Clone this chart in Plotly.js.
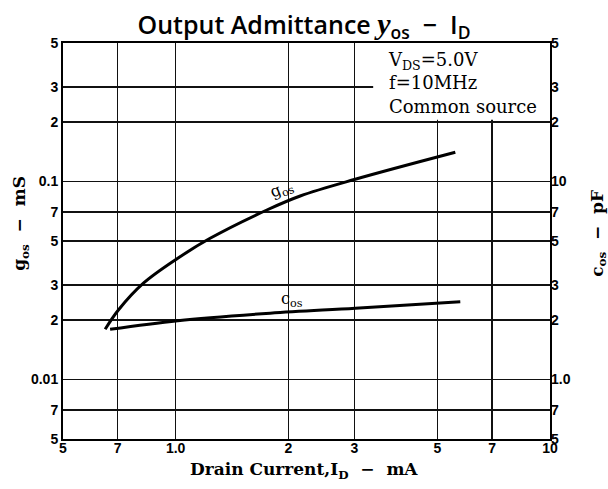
<!DOCTYPE html>
<html><head><meta charset="utf-8">
<script src="https://cdn.plot.ly/plotly-3.0.1.min.js"></script>
<style>html,body{margin:0;padding:0;background:#fff}</style>
</head><body>
<div id="chart" style="width:608px;height:489px"></div>
<script>
// Drain current (mA)
const gosCurrent = [0.648, 0.703, 0.820, 1.013, 1.236, 1.752, 2.151, 3.018, 5.585];
// Output conductance g_os (mS)
const gosValues  = [0.0179, 0.0224, 0.0306, 0.0409, 0.0516, 0.0717, 0.0844, 0.1025, 0.1403];
const cosCurrent = [0.668, 1.013, 1.788, 3.018, 5.759];
// Output capacitance c_os (pF)
const cosValues  = [1.79, 1.98, 2.16, 2.29, 2.47];

const xTickVals = [0.5, 0.7, 1, 2, 3, 5, 7, 10];
const xTickText = ['5', '7', '1.0', '2', '3', '5', '7', '10'];
const yTickVals = [0.005, 0.007, 0.01, 0.02, 0.03, 0.05, 0.07, 0.1, 0.2, 0.3, 0.5];
const yTickText = ['5', '7', '0.01', '2', '3', '5', '7', '0.1', '2', '3', '5'];
const y2TickVals = [0.5, 0.7, 1, 2, 3, 5, 7, 10, 20, 30, 50];
const y2TickText = ['5', '7', '1.0', '2', '3', '5', '7', '10', '2', '3', '5'];

const tickFont = {family: 'Liberation Sans, Arial, sans-serif', size: 14, color: '#000', weight: 'bold'};
const serif = 'DejaVu Serif, Liberation Serif, serif';

const traces = [
  {x: gosCurrent, y: gosValues, type: 'scatter', mode: 'lines',
   line: {color: '#000', width: 3, shape: 'spline'}, xaxis: 'x', yaxis: 'y', hoverinfo: 'skip'},
  {x: cosCurrent, y: cosValues, type: 'scatter', mode: 'lines',
   line: {color: '#000', width: 3, shape: 'spline'}, xaxis: 'x', yaxis: 'y2', hoverinfo: 'skip'}
];

const layout = {
  width: 608, height: 489,
  margin: {l: 63, r: 58, t: 43, b: 50, pad: 0},
  paper_bgcolor: '#fff', plot_bgcolor: '#fff',
  showlegend: false,
  title: {text: 'Output Admittance <span style="font-family:Liberation Serif;font-size:30px"><i>y</i></span><sub>os</sub>  −  I<sub>D</sub>',
          font: {family: 'Open Sans, Liberation Sans, sans-serif', size: 25, color: '#000', weight: 600},
          x: 0.5, xanchor: 'center', y: 0.948, yanchor: 'middle'},
  xaxis: {type: 'log', range: [Math.log10(0.5), 1], tickvals: xTickVals, ticktext: xTickText,
          tickfont: tickFont, ticks: '', ticklabelstandoff: -5, showgrid: true, gridcolor: '#111', gridwidth: 1.5,
          showline: true, linecolor: '#000', linewidth: 2, mirror: true, zeroline: false, fixedrange: true},
  yaxis: {type: 'log', range: [Math.log10(0.005), Math.log10(0.5)], tickvals: yTickVals, ticktext: yTickText,
          tickfont: tickFont, ticks: '', showgrid: true, gridcolor: '#111', gridwidth: 1.5,
          showline: true, linecolor: '#000', linewidth: 2, mirror: true, zeroline: false, fixedrange: true},
  yaxis2: {type: 'log', range: [Math.log10(0.5), Math.log10(50)], tickvals: y2TickVals, ticktext: y2TickText,
           tickfont: tickFont, ticks: '', overlaying: 'y', side: 'right', showgrid: false,
           showline: false, zeroline: false, fixedrange: true},
  shapes: [
    {type: 'rect', xref: 'x', yref: 'y', x0: 3.37, x1: 10, y0: 0.205, y1: 0.5,
     fillcolor: '#fff', line: {width: 0}, layer: 'between'}
  ],
  annotations: [
    {text: 'V<sub>DS</sub>=5.0V<br>f=10MHz<br>Common source', xref: 'paper', yref: 'paper',
     x: 0.663, y: 0.99, xanchor: 'left', yanchor: 'top', align: 'left', showarrow: false,
     font: {family: serif, size: 18, color: '#000'}},
    {text: 'g<sub>os</sub>  −  mS', xref: 'paper', yref: 'paper', x: -0.087, y: 0.545,
     xanchor: 'center', yanchor: 'middle',
     textangle: -90, showarrow: false, font: {family: serif, size: 17, color: '#000', weight: 'bold'}},
    {text: 'c<sub>os</sub>  −  pF', xref: 'paper', yref: 'paper', x: 1.098, y: 0.52,
     xanchor: 'center', yanchor: 'middle',
     textangle: -90, showarrow: false, font: {family: serif, size: 17, color: '#000', weight: 'bold'}},
    {text: 'Drain Current,I<sub>D</sub>  −  mA', xref: 'paper', yref: 'paper', x: 0.495, y: -0.08,
     xanchor: 'center', yanchor: 'middle', showarrow: false,
     font: {family: serif, size: 17, color: '#000', weight: 'bold'}},
    {text: 'g<sub>os</sub>', xref: 'paper', yref: 'paper', x: (281-63)/487, y: (439-189)/396,
     xanchor: 'center', yanchor: 'middle',
     textangle: -22, showarrow: false, font: {family: serif, size: 16, color: '#000'}},
    {text: 'c<sub>os</sub>', xref: 'paper', yref: 'paper', x: (292-63)/487, y: (439-299)/396,
     xanchor: 'center', yanchor: 'middle',
     showarrow: false, font: {family: serif, size: 16, color: '#000'}}
  ]
};

Plotly.newPlot('chart', traces, layout, {staticPlot: true, displayModeBar: false});
</script>
</body></html>
